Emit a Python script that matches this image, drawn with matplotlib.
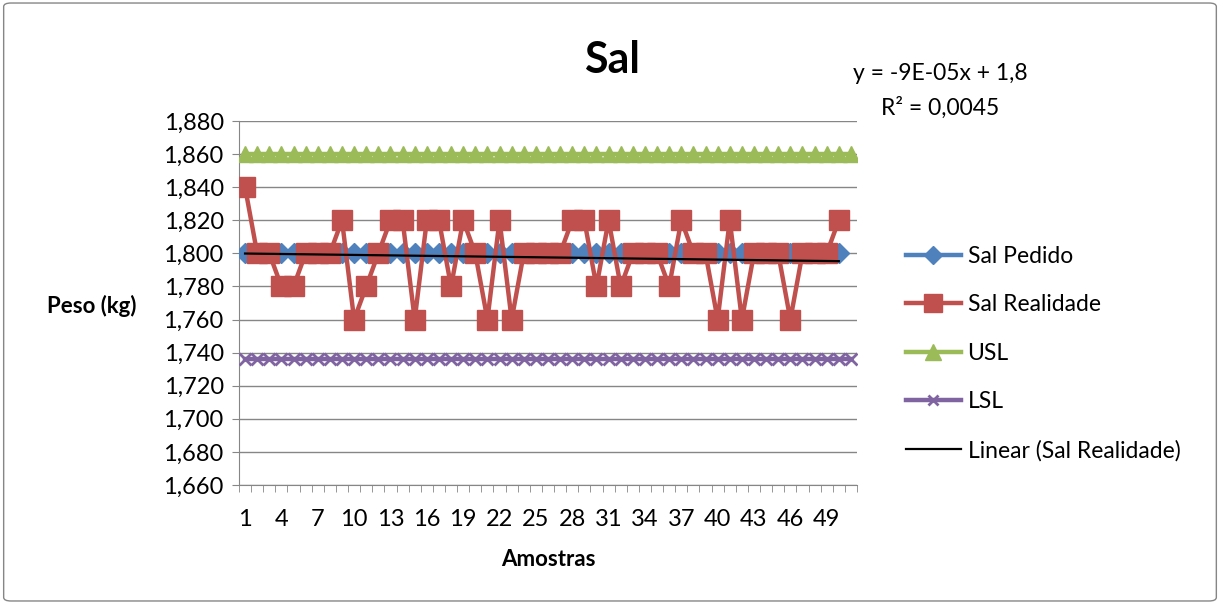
import numpy as np
import matplotlib
matplotlib.use("Agg")
import matplotlib.pyplot as plt
from matplotlib.patches import FancyBboxPatch

plt.rcParams['font.family'] = ['Lato', 'DejaVu Sans']

# dados
amostras = list(range(1, 52))
sal_pedido = [1.80] * 50
sal_realidade = [1.84, 1.80, 1.80, 1.78, 1.78, 1.80, 1.80, 1.80, 1.82, 1.76,
                 1.78, 1.80, 1.82, 1.82, 1.76, 1.82, 1.82, 1.78, 1.82, 1.80,
                 1.76, 1.82, 1.76, 1.80, 1.80, 1.80, 1.80, 1.82, 1.82, 1.78,
                 1.82, 1.78, 1.80, 1.80, 1.80, 1.78, 1.82, 1.80, 1.80, 1.76,
                 1.82, 1.76, 1.80, 1.80, 1.80, 1.76, 1.80, 1.80, 1.80, 1.82]
usl = [1.86] * 51
lsl = [1.736] * 51
y_ticks = [1.66, 1.68, 1.70, 1.72, 1.74, 1.76, 1.78, 1.80, 1.82, 1.84, 1.86, 1.88]
x_labels = list(range(1, 50, 3))

fig = plt.figure(figsize=(12.2, 6.04), dpi=100)
fig.patches.append(FancyBboxPatch((0.003, 0.005), 0.994, 0.99, boxstyle="round,pad=0,rounding_size=0.006",
                                  transform=fig.transFigure, fill=False, edgecolor='#868686', lw=1))
ax = fig.add_axes([239 / 1220, 1 - 485 / 604, (857 - 239) / 1220, (485 - 121) / 604])

ax.plot(amostras[:50], sal_pedido, color='#4F81BD', lw=3.2, marker='D', ms=10, label='Sal Pedido', zorder=3)
ax.plot(amostras[:50], sal_realidade, color='#C0504D', lw=3.2, marker='s', ms=14, label='Sal Realidade', zorder=4)
ax.plot(amostras, usl, color='#9BBB59', lw=3.2, marker='^', ms=12, label='USL', zorder=3)
ax.plot(amostras, lsl, color='#8064A2', lw=3.2, marker='x', ms=8, mew=2, label='LSL', zorder=3)

# linha de tendência
coef = np.polyfit(amostras[:50], sal_realidade, 1)
xt = np.array([1, 50])
ax.plot(xt, np.polyval(coef, xt), color='black', lw=1.6, label='Linear (Sal Realidade)', zorder=5)

ax.set_xlim(0.5, 51.5)
ax.set_ylim(1.66, 1.88)
ax.set_yticks(y_ticks)
ax.set_yticklabels([f"{v:.3f}".replace('.', ',') for v in y_ticks], fontsize=17)
ax.set_xticks(x_labels)
ax.set_xticklabels([str(v) for v in x_labels], fontsize=17)
ax.tick_params(axis='x', length=0, pad=17)
ax.set_xticks(np.arange(0.5, 52, 1), minor=True)
ax.tick_params(axis='x', which='minor', length=5, color='#868686')
ax.tick_params(axis='y', length=5, color='#868686', pad=6)
ax.grid(axis='y', color='#868686', lw=1)
ax.set_axisbelow(True)
for s in ['top', 'right']:
    ax.spines[s].set_visible(False)
for s in ['left', 'bottom']:
    ax.spines[s].set_color('#868686')

ax.set_xlabel('Amostras', fontsize=16, fontweight='bold', labelpad=14)
fig.text(92 / 1220, 1 - 306 / 604, 'Peso (kg)', fontsize=16, fontweight='bold', ha='center', va='center')
fig.text(612 / 1220, 1 - 60 / 604, 'Sal', fontsize=31, fontweight='bold', ha='center', va='center')
fig.text(940 / 1220, 1 - 74 / 604, 'y = -9E-05x + 1,8', fontsize=16.5, ha='center', va='center')
fig.text(940 / 1220, 1 - 108 / 604, 'R² = 0,0045', fontsize=16.5, ha='center', va='center')

ax.legend(loc='upper left', bbox_to_anchor=(885 / 1220, 1 - 225 / 604), bbox_transform=fig.transFigure,
          frameon=False, fontsize=16.5, handlelength=2.4, labelspacing=1.2, handletextpad=0.3,
          markerscale=0.95)

fig.savefig('out.png', dpi=100)
